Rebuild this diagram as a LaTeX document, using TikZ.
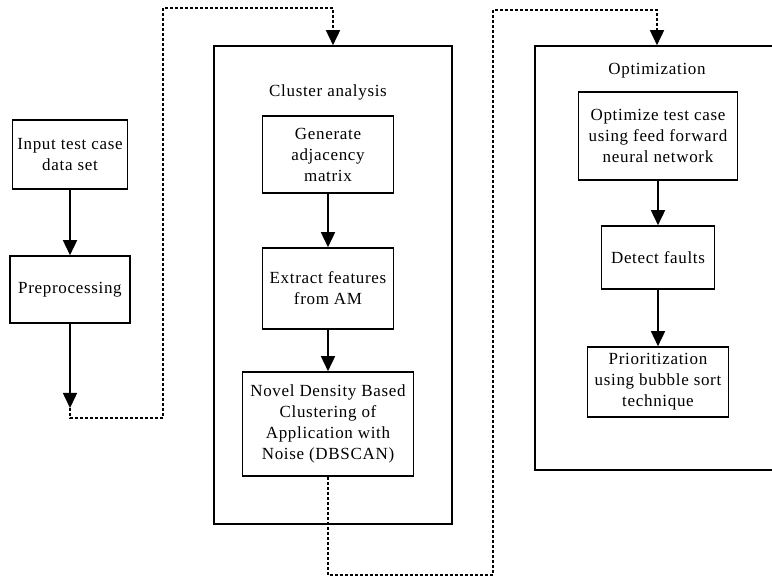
\documentclass[tikz,border=0pt]{standalone}
\usepackage{fontspec}
\setmainfont{Liberation Serif}[LetterSpace=4]
\usetikzlibrary{arrows.meta}
\begin{document}
\begin{tikzpicture}[x=1pt,y=-1pt,
  every node/.style={font=\fontsize{17}{21}\selectfont, text=black},
  procbox/.style={draw=black, line width=1.6pt, align=center, inner sep=0pt, anchor=center},
  groupbox/.style={draw=black, line width=1.6pt, inner sep=0pt, anchor=center},
  arr/.style={line width=1.6pt, -{Triangle[length=15pt,width=14pt]}},
  dotline/.style={line width=1.6pt, dash pattern=on 3pt off 2pt},
  dotarr/.style={dotline, -{Triangle[length=15pt,width=14pt]}}]
\useasboundingbox (0,0) rectangle (772,577);
\clip (0,0) rectangle (772,577);

% left column
\node[procbox, minimum width=115pt, minimum height=69pt] (inp) at (70,154.5) {Input test case\\data set};
\node[procbox, minimum width=120pt, minimum height=67pt] (prep) at (70,289.5) {Preprocessing};
\coordinate (prepend) at (70,408);

% cluster analysis group
\node[groupbox, minimum width=238pt, minimum height=478pt] (clus) at (333,285) {};
\node (clustitle) at (328,92) {Cluster analysis};
\node[procbox, minimum width=131pt, minimum height=77pt] (gen) at (328,154.5) {Generate\\adjacency\\matrix};
\node[procbox, minimum width=131pt, minimum height=81pt] (ext) at (328,288.5) {Extract features\\from AM};
\node[procbox, minimum width=171pt, minimum height=104pt] (novel) at (328,424) {Novel Density Based\\Clustering of\\Application with\\Noise (DBSCAN)};

% optimization group
\node[groupbox, minimum width=244pt, minimum height=424pt] (opt) at (657,258) {};
\node (opttitle) at (657,71) {Optimization};
\node[procbox, minimum width=159pt, minimum height=88pt] (optz) at (658,136) {Optimize test case\\using feed forward\\neural network};
\node[procbox, minimum width=113pt, minimum height=63pt] (det) at (658,257.5) {Detect faults};
\node[procbox, minimum width=141pt, minimum height=70pt] (pri) at (658,382) {Prioritization\\using bubble sort\\technique};

% solid flow
\draw[arr] (inp) -- (prep);
\draw[arr] (prep) -- (prepend);
\draw[arr] (gen) -- (ext);
\draw[arr] (ext) -- (novel);
\draw[arr] (optz) -- (det);
\draw[arr] (det) -- (pri);

% dotted links between stages
\draw[dotarr] (prepend) -- (70,418) -- (163,418) -- (163,8) -- (333,8) -- (clus.north);
\draw[dotarr] (novel.south) -- (328,575) -- (493,575) -- (493,10) -- (657,10) -- (opt.north);
\end{tikzpicture}
\end{document}
